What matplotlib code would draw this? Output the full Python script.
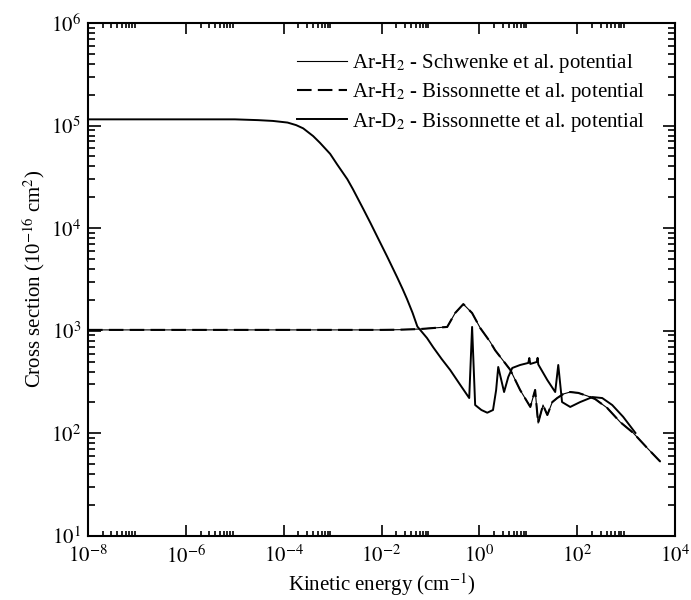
import matplotlib
matplotlib.use("Agg")
from matplotlib import pyplot as plt

plt.rcParams['font.family'] = 'serif'
plt.rcParams['font.serif'] = ['Liberation Serif', 'DejaVu Serif']
plt.rcParams['mathtext.fontset'] = 'stix'

# Ar-D2, Bissonnette potential
energy_d2 = [1e-8, 1e-6, 1e-5, 3e-5, 6e-5, 1.2e-4, 1.8e-4, 2.5e-4, 4e-4, 5.5e-4,
             8.9e-4, 1.23e-3, 2e-3, 2.6e-3, 4.2e-3, 5.9e-3, 9.3e-3, 1.3e-2,
             2.1e-2, 2.7e-2, 3.3e-2, 4.3e-2, 5.4e-2, 0.085, 0.114, 0.17, 0.253,
             0.41, 0.62, 0.71, 0.82, 1.1, 1.45, 1.9, 2.2, 2.43, 3.2, 3.9, 4.7,
             6.8, 10, 10.5, 11, 15, 15.5, 16, 24.5, 35.5, 41, 49, 72, 115, 205,
             325, 520, 870, 1550]
sigma_d2 = [1.15e5, 1.15e5, 1.15e5, 1.13e5, 1.11e5, 1.07e5, 1.01e5, 9.4e4, 7.9e4,
            6.8e4, 5.3e4, 4.2e4, 3.0e4, 2.4e4, 1.55e4, 1.13e4, 7.3e3, 5.3e3,
            3.3e3, 2.55e3, 2.05e3, 1.5e3, 1.1e3, 850, 690, 530, 415,
            295, 221, 1090, 189, 169, 159, 169, 264, 444, 253, 355, 434,
            464, 486, 543, 475, 497, 545, 470, 331, 253, 464, 202, 181, 202, 226,
            221, 189, 145, 101]

# Ar-H2 (Schwenke and Bissonnette potentials overlap)
energy_h2 = [1e-8, 1e-4, 1e-2, 0.024, 0.062, 0.22, 0.32, 0.47, 0.71, 1.04, 1.66,
             2.1, 4.3, 6.8, 11, 13.8, 15.9, 20, 24.5, 31, 39, 52, 72, 105,
             160, 233, 410, 755, 1400, 2700, 5000]
sigma_h2_schwenke = [1020, 1020, 1020, 1025, 1040, 1090, 1490, 1820, 1490, 1065,
                     780, 646, 415, 265, 181, 265, 126, 189, 151, 202, 221,
                     242, 253, 248, 232, 216, 177, 129, 101, 72, 53]
sigma_h2_bissonnette = [1020, 1020, 1020, 1025, 1040, 1090, 1490, 1820, 1490, 1065,
                        780, 646, 415, 265, 181, 265, 126, 189, 151, 202, 221,
                        242, 253, 248, 232, 216, 177, 129, 101, 72, 53]

x_major = [1e-8, 1e-6, 1e-4, 1e-2, 1e0, 1e2, 1e4]
x_labels = ['$10^{-8}$', '$10^{-6}$', '$10^{-4}$', '$10^{-2}$',
            '$10^{0}$', '$10^{2}$', '$10^{4}$']
y_major = [1e1, 1e2, 1e3, 1e4, 1e5, 1e6]
y_labels = ['$10^{1}$', '$10^{2}$', '$10^{3}$', '$10^{4}$', '$10^{5}$', '$10^{6}$']

fig = plt.figure(figsize=(6.91, 6.0), dpi=100)
ax = fig.add_axes([0.1274, 0.1067, 0.8495, 0.855])

ax.plot(energy_h2, sigma_h2_schwenke, color='black', lw=0.8,
        label='Ar-H$_2$ - Schwenke et al. potential')
ax.plot(energy_h2, sigma_h2_bissonnette, color='black', lw=1.5,
        linestyle=(0, (7, 3)), label='Ar-H$_2$ - Bissonnette et al. potential')
ax.plot(energy_d2, sigma_d2, color='black', lw=1.4,
        label='Ar-D$_2$ - Bissonnette et al. potential')

ax.set_xscale('log')
ax.set_yscale('log')
ax.set_xlim(1e-8, 1e4)
ax.set_ylim(1e1, 1e6)

ax.set_xticks(x_major)
ax.set_xticklabels(x_labels)
ax.set_xticks([k * m for m in x_major[:-1] for k in range(2, 10)], minor=True)
ax.set_yticks(y_major)
ax.set_yticklabels(y_labels)
ax.set_yticks([k * 10.0 ** e for e in range(1, 6) for k in range(2, 10)], minor=True)

ax.tick_params(which='both', direction='in', top=True, right=True,
               labelsize=15, width=1.2, color='black')
ax.tick_params(axis='x', which='major', length=8, pad=7)
ax.tick_params(axis='x', which='minor', length=3.6)
ax.tick_params(axis='y', which='major', length=9, pad=5)
ax.tick_params(axis='y', which='minor', length=5)
for s in ax.spines.values():
    s.set_linewidth(1.5)

ax.set_xlabel('Kinetic energy (cm$^{-1}$)', fontsize=15, labelpad=2)
ax.set_ylabel('Cross section (10$^{-16}$ cm$^2$)', fontsize=15, labelpad=3)

ax.legend(loc='upper left', bbox_to_anchor=(0.356, 0.943), frameon=False,
          fontsize=15, handlelength=2.4, handletextpad=0.24, labelspacing=0.3,
          borderpad=0, borderaxespad=0)

plt.savefig('out.png', dpi=100)
